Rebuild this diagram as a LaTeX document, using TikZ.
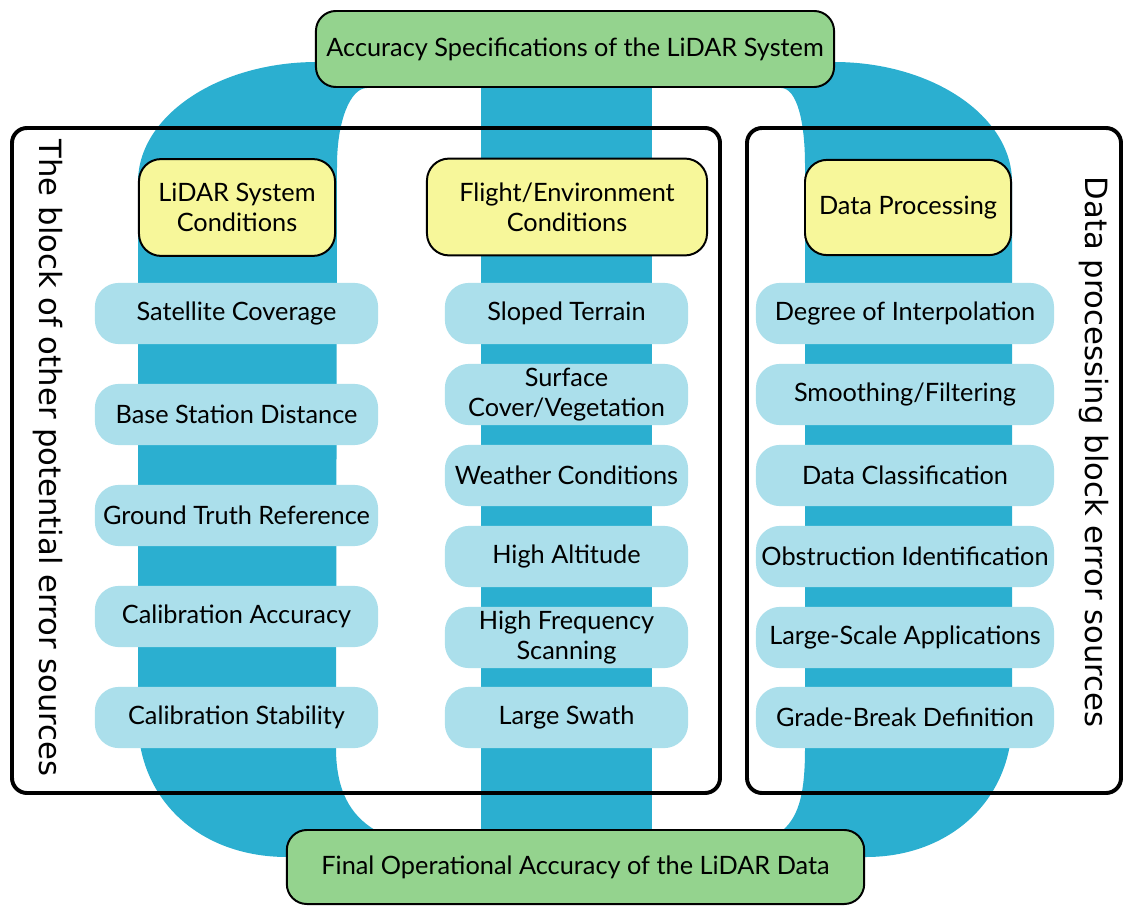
\documentclass[tikz,border=0pt]{standalone}
\usepackage{fontspec}
\setmainfont{Lato}
\newfontfamily\sidefont{DejaVu Sans}

\definecolor{band}{RGB}{43,175,208}
\definecolor{item}{RGB}{171,223,235}
\definecolor{cond}{RGB}{247,247,154}
\definecolor{spec}{RGB}{148,211,142}

\tikzset{
  greenbox/.style={draw=black,line width=1.4pt,fill=spec,rounded corners=0.5cm,
    minimum height=1.9cm,align=center},
  condbox/.style={draw=black,line width=1.4pt,fill=cond,rounded corners=0.55cm,
    minimum height=2.42cm,align=center},
  itembox/.style={fill=item,rounded corners=0.6cm,minimum height=1.53cm,
    align=center,inner sep=2pt},
  blockframe/.style={draw=black,line width=2.8pt,rounded corners=0.375cm},
  sidelabel/.style={rotate=-90,font=\sidefont\fontsize{21.8}{24}\selectfont}
}

\begin{document}
\begin{tikzpicture}[x=0.025cm,y=-0.025cm,
    every node/.append style={font=\fontsize{18}{21.5}\selectfont}]
  \useasboundingbox (0,0) rectangle (1124,906);

  % the three blue bands behind the columns
  \begin{scope}[fill=band]
    \fill (400,62) -- (317,62) .. controls (218,62) and (138,116) .. (138,182)
      -- (138,720) .. controls (138,800) and (200,857) .. (287,857)
      -- (400,857) -- (375,830) .. controls (350,815) and (336,790) .. (336,748)
      -- (337,165) .. controls (337,122) and (350,88) .. (367,88) -- (400,88) -- cycle;
    \fill (481,62) rectangle (652,857);
    \fill (750,62) -- (834,62) .. controls (932,62) and (1012,116) .. (1012,182)
      -- (1012,720) .. controls (1012,800) and (950,857) .. (866,857)
      -- (750,857) -- (783,830) .. controls (800,815) and (805,790) .. (805,748)
      -- (805,165) .. controls (805,122) and (797,88) .. (781,88) -- (750,88) -- cycle;
  \end{scope}

  % block frames
  \draw[blockframe] (12,128) rectangle (720,793);
  \draw[blockframe] (747,128) rectangle (1121,793);
  \node[sidelabel] (otherlbl) at (48,458) {The block of other potential error sources};
  \node[sidelabel] (proclbl) at (1094,452) {Data processing block error sources};

  % top and bottom
  \node[greenbox,minimum width=12.95cm] (spec) at (575,49)
    {Accuracy Specifications of the LiDAR System};
  \node[greenbox,minimum width=14.43cm,minimum height=1.85cm] (final) at (575.5,867)
    {Final Operational Accuracy of the LiDAR Data};

  % column heads
  \node[condbox,minimum width=4.9cm] (sysc) at (237,207.5) {LiDAR System\\Conditions};
  \node[condbox,minimum width=7cm] (envc) at (567,207) {Flight/Environment\\Conditions};
  \node[condbox,minimum width=5.15cm,minimum height=2.38cm] (proc) at (908,207.5)
    {Data Processing};

  % LiDAR system column
  \begin{scope}[every node/.append style={itembox,minimum width=7.08cm}]
    \node (sat) at (236.5,313.5) {Satellite Coverage};
    \node (base) at (236.5,414.5) {Base Station Distance};
    \node (truth) at (236.5,515.5) {Ground Truth Reference};
    \node (calacc) at (236.5,616.5) {Calibration Accuracy};
    \node (calstab) at (236.5,717.5) {Calibration Stability};
  \end{scope}

  % flight / environment column
  \begin{scope}[every node/.append style={itembox,minimum width=6.08cm}]
    \node (slope) at (566.5,313.5) {Sloped Terrain};
    \node (veg) at (566.5,394.5) {Surface\\Cover/Vegetation};
    \node (weather) at (566.5,475.5) {Weather Conditions};
    \node (alt) at (566.5,556.5) {High Altitude};
    \node (freq) at (566.5,637.5) {High Frequency\\Scanning};
    \node (swath) at (566.5,717.5) {Large Swath};
  \end{scope}

  % data processing column
  \begin{scope}[every node/.append style={itembox,minimum width=7.45cm}]
    \node (interp) at (905,313.5) {Degree of Interpolation};
    \node (smooth) at (905,394.5) {Smoothing/Filtering};
    \node (classif) at (905,475.5) {Data Classification};
    \node (obstr) at (905,556.5) {Obstruction Identification};
    \node (large) at (905,637.5) {Large-Scale Applications};
    \node (grade) at (905,717.5) {Grade-Break Definition};
  \end{scope}
\end{tikzpicture}
\end{document}
